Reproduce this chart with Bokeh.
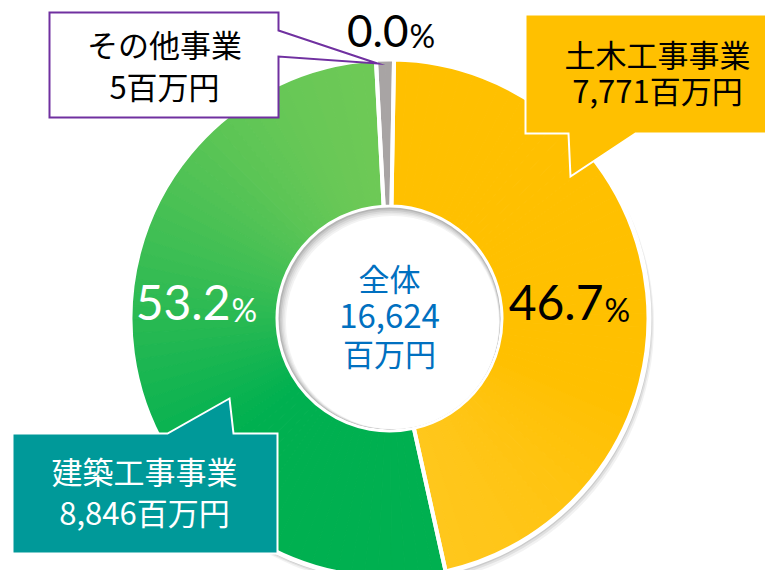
import numpy as np
from bokeh.plotting import figure
from bokeh.embed import file_html
from bokeh.resources import INLINE
from bokeh.core.properties import value

# ---- data ----
categories = ["土木工事事業", "建築工事事業", "その他事業"]
values = [7771, 8846, 5]                 # 百万円
value_labels = ["7,771百万円", "8,846百万円", "5百万円"]
percent_labels = ["46.7", "53.2", "0.0"]
total_title = "全体"
total_label = "16,624"
unit_label = "百万円"

# ---- style ----
FONT = value("Noto Sans CJK JP")
NUM_FONT = value("Lato")
W, H = 765, 570
CX, CY = 389, 318          # screen px
R_OUT, R_IN = 259, 112
MIN_SWEEP = 4.0            # deg, so the tiny slice stays visible

def Y(sy):
    return 586 - sy

def hex2rgb(h):
    h = h.lstrip("#")
    return np.array([int(h[i:i + 2], 16) for i in (0, 2, 4)], float)

def mix(c1, c2, t):
    c = hex2rgb(c1) * (1 - t) + hex2rgb(c2) * t
    return "#%02x%02x%02x" % tuple(int(round(v)) for v in c)

p = figure(width=W, height=H, x_range=(0, W), y_range=(586 - H, 586),
           output_backend="svg", toolbar_location=None, min_border=0)
p.axis.visible = False
p.grid.visible = False
p.outline_line_color = None
p.background_fill_color = "white"
p.border_fill_color = "white"

cx, cy = CX, Y(CY)

# outer soft shadow + white rim
for k, a in [(6, 0.05), (4, 0.07), (2, 0.09)]:
    p.circle(x=cx + k * 0.6, y=cy - k, radius=R_OUT + 2, fill_color="black",
             fill_alpha=a, line_color=None)
p.circle(x=cx, y=cy, radius=R_OUT + 3, fill_color="white", line_color=None)

# slice sweeps (clockwise from top)
vals = np.array(values, float)
sweeps = vals / vals.sum() * 360.0
small = sweeps < MIN_SWEEP
extra = (MIN_SWEEP - sweeps[small]).sum()
sweeps[small] = MIN_SWEEP
sweeps[~small] -= extra * sweeps[~small] / sweeps[~small].sum()

grad = {
    0: ("#FFC000", "#FFCB2E", 380, 575),
    1: ("#88CF58", "#00B050", 60, 430),
    2: ("#A8A4A4", "#A8A4A4", 0, 1),
}

start = 89.0
slice_angles = []
for i, sw in enumerate(sweeps):
    a_end = start
    a_start = start - sw
    slice_angles.append((a_start, a_end))
    c1, c2, y1, y2 = grad[i]
    n = max(2, int(sw / 3))
    edges = np.linspace(a_start, a_end, n + 1)
    mids = (edges[:-1] + edges[1:]) / 2
    rm = (R_OUT + R_IN) / 2
    sys_ = CY - rm * np.sin(np.radians(mids))
    cols = [mix(c1, c2, float(np.clip((s - y1) / (y2 - y1), 0, 1))) for s in sys_]
    p.annular_wedge(x=cx, y=cy, inner_radius=R_IN, outer_radius=R_OUT,
                    start_angle=np.radians(edges[:-1]), end_angle=np.radians(edges[1:]),
                    fill_color=cols, line_color=cols, line_width=1)
    start = a_start

for a_start, a_end in slice_angles:
    p.annular_wedge(x=cx, y=cy, inner_radius=R_IN, outer_radius=R_OUT,
                    start_angle=np.radians(a_start), end_angle=np.radians(a_end),
                    fill_alpha=0, line_color="white", line_width=4)

# center hole with inner shadow
p.circle(x=cx, y=cy, radius=R_IN - 1, fill_color="#b5b5b5", line_color=None)
shades = ["#c9c9c9", "#dadada", "#e8e8e8", "#f3f3f3", "#ffffff"]
for k, col in enumerate(shades, start=1):
    p.circle(x=cx + 0.6 * k, y=cy - 0.8 * k, radius=R_IN - 1 - 0.9 * k,
             fill_color=col, line_color=None)

# center text
p.text(x=[cx, cx, cx], y=[Y(277), Y(315), Y(352)],
       text=[total_title, total_label, unit_label], text_font=FONT,
       text_font_size=["31px", "33px", "31px"], text_color="#0070C0",
       text_align="center", text_baseline="middle")

# percent labels: (x where number ends, digit centre y, % centre y, size, colour)
pct_pos = [(603, 302, 309, 48, "black"), (230, 302, 309, 48, "white"),
           (408, 30, 35, 44, "black")]
for lab, (x, yd, yp, fs, col) in zip(percent_labels, pct_pos):
    p.text(x=[x], y=[Y(yd)], text=[lab], text_font=NUM_FONT, text_font_size=f"{fs}px",
           text_color=col, text_align="right", text_baseline="middle")
    p.text(x=[x + 1], y=[Y(yp)], text=["%"], text_font=NUM_FONT, text_font_size="32px",
           text_color=col, text_align="left", text_baseline="middle")

# callouts
def callout(pts, fill, line, lw):
    xs = [q[0] for q in pts]
    ys = [Y(q[1]) for q in pts]
    p.patch(x=xs, y=ys, fill_color=fill, line_color=line, line_width=lw,
            line_join="miter")

callout([(525, 14), (790, 14), (790, 133), (635, 133), (570, 176), (568, 133),
         (525, 133)], "#FFC000", "white", 2)
callout([(12, 433), (167, 433), (229, 398), (233, 433), (277, 433), (277, 553),
         (12, 553)], "#009999", "white", 2)
callout([(49, 12), (278, 12), (278, 30), (377, 63), (278, 56), (278, 117),
         (49, 117)], "white", "#7030A0", 2)

label_pos = [(657, 53, 89, "black"), (144, 470, 511, "white"), (164, 43, 85, "black")]
for cat, vl, (x, y1, y2, col) in zip(categories, value_labels, label_pos):
    p.text(x=[x, x], y=[Y(y1), Y(y2)], text=[cat, vl], text_font=FONT,
           text_font_size="31px", text_color=col, text_align="center",
           text_baseline="middle")

open("out.html", "w").write(file_html(p, INLINE))
